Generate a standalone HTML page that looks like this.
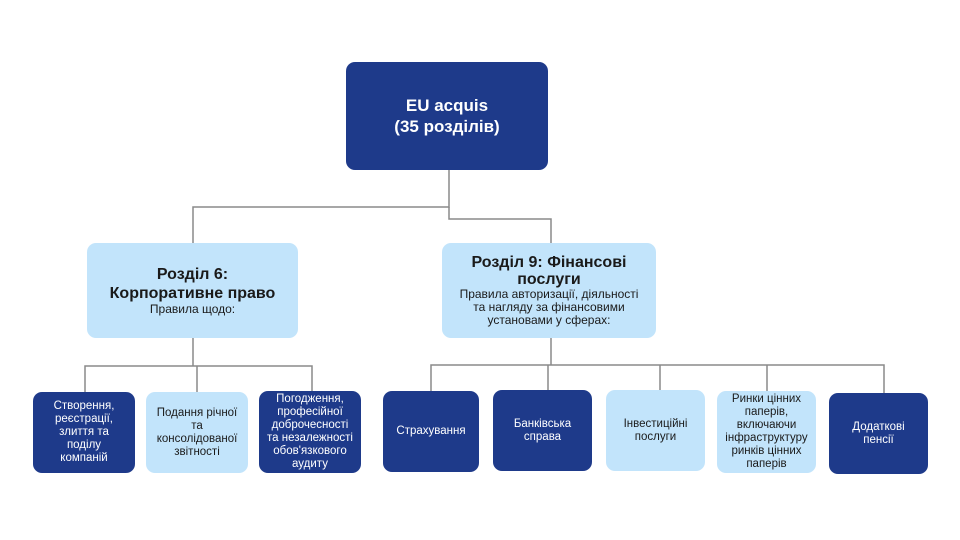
<!DOCTYPE html>
<html><head><meta charset="utf-8"><style>
body{margin:0;width:960px;height:540px;background:#fff;position:relative;overflow:hidden;font-family:"Liberation Sans","DejaVu Sans",sans-serif}
.b{position:absolute;border-radius:9px;display:flex;align-items:center;justify-content:center;text-align:center;box-sizing:border-box;font-size:11.5px;line-height:13px}
.d{background:#1e3a8a;color:#fff}
.l{background:#c2e4fb;color:#1a1a1a}
svg{position:absolute;left:0;top:0}
</style></head><body>
<svg width="960" height="540"><g stroke="#8a8a8a" stroke-width="1.5" fill="none">
<path d="M449 170V207H193V243"/>
<path d="M449 207V219H551V243"/>
<path d="M193 338V366M85 392V366H312V392M197 366V392"/>
<path d="M551 338V365M431 391V365H884V393M548 365V391M660 365V391M767 365V391"/>
</g></svg>
<div class="b d" style="left:346px;top:62px;width:202px;height:108px;font-size:17px;line-height:21px;font-weight:bold">EU acquis<br>(35 розділів)</div>
<div class="b l" style="left:87px;top:243px;width:211px;height:95px;flex-direction:column"><div style="font-weight:bold;font-size:16px;line-height:19px">Розділ 6:<br>Корпоративне право</div><div style="font-size:12px">Правила щодо:</div></div>
<div class="b l" style="left:442px;top:243px;width:214px;height:95px;flex-direction:column"><div style="font-weight:bold;font-size:16px;line-height:17px">Розділ 9: Фінансові<br>послуги</div><div style="font-size:12px;line-height:13px">Правила авторизації, діяльності<br>та нагляду за фінансовими<br>установами у сферах:</div></div>
<div class="b d" style="left:33px;top:392px;width:102px;height:81px">Створення,<br>реєстрації,<br>злиття та<br>поділу<br>компаній</div>
<div class="b l" style="left:146px;top:392px;width:102px;height:81px">Подання річної<br>та<br>консолідованої<br>звітності</div>
<div class="b d" style="left:259px;top:391px;width:102px;height:82px">Погодження,<br>професійної<br>доброчесності<br>та незалежності<br>обов'язкового<br>аудиту</div>
<div class="b d" style="left:383px;top:391px;width:96px;height:81px">Страхування</div>
<div class="b d" style="left:493px;top:390px;width:99px;height:81px">Банківська<br>справа</div>
<div class="b l" style="left:606px;top:390px;width:99px;height:81px">Інвестиційні<br>послуги</div>
<div class="b l" style="left:717px;top:391px;width:99px;height:82px">Ринки цінних<br>паперів,<br>включаючи<br>інфраструктуру<br>ринків цінних<br>паперів</div>
<div class="b d" style="left:829px;top:393px;width:99px;height:81px">Додаткові<br>пенсії</div>
</body></html>
